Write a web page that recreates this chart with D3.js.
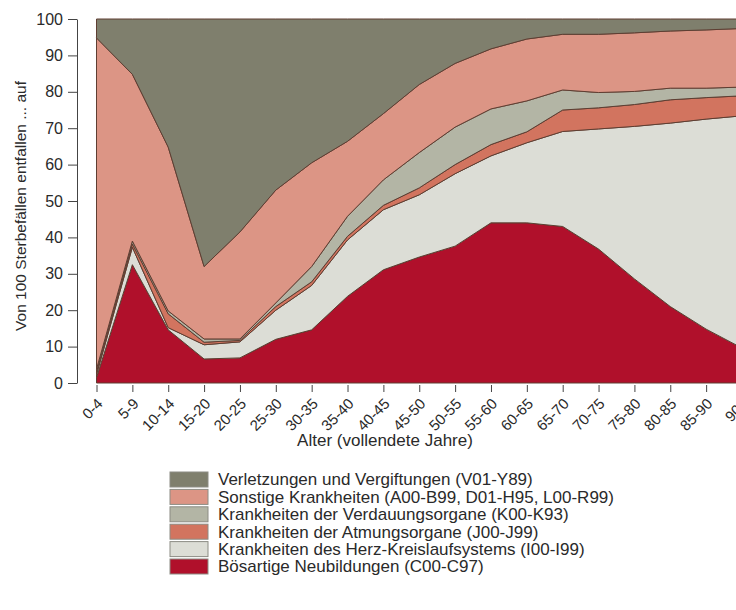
<!DOCTYPE html>
<html>
<head>
<meta charset="utf-8">
<script src="https://cdn.jsdelivr.net/npm/d3@7"></script>
<style>
  html, body { margin: 0; padding: 0; background: #fff; }
  svg { display: block; font-family: "Liberation Sans", Arial, sans-serif; }
</style>
</head>
<body>
<svg id="chart" width="736" height="610"></svg>
<script>
// ---- data ----
const categories = ["0-4","5-9","10-14","15-20","20-25","25-30","30-35","35-40","40-45","45-50","50-55","55-60","60-65","65-70","70-75","75-80","80-85","85-90","90+"];
const boesartig   = [1.5, 32.5, 14.6, 6.6, 6.9, 12.0, 14.6, 23.8, 31.1, 34.6, 37.6, 44.0, 44.0, 43.0, 36.8, 28.6, 21.0, 14.8, 9.6];
const herzKreis   = [0.8, 4.8, 0.6, 3.9, 4.4, 8.0, 12.2, 15.5, 16.5, 17.1, 19.9, 18.4, 22.0, 26.1, 33.0, 41.9, 50.4, 57.7, 63.8];
const atmung      = [0.7, 0.9, 3.8, 0.7, 0.4, 1.0, 1.0, 1.0, 1.2, 1.9, 2.5, 3.1, 3.0, 5.9, 5.8, 6.0, 6.4, 5.9, 5.5];
const verdauung   = [0.8, 0.8, 0.8, 0.9, 0.4, 1.0, 4.2, 5.5, 7.0, 9.7, 10.3, 9.8, 8.5, 5.5, 4.2, 3.6, 3.2, 2.6, 2.4];
const sonstige    = [91.0, 45.8, 45.0, 19.9, 29.4, 31.0, 28.5, 20.6, 18.2, 18.7, 17.5, 16.5, 17.0, 15.3, 16.0, 16.1, 15.7, 16.0, 16.1];
const verletzung  = [5.2, 15.2, 35.2, 68.0, 58.5, 47.0, 39.5, 33.6, 26.0, 18.0, 12.2, 8.2, 5.5, 4.2, 4.2, 3.8, 3.3, 3.0, 2.6];
const yTicks = [0,10,20,30,40,50,60,70,80,90,100];

const seriesKeys = ["boesartig","herzKreis","atmung","verdauung","sonstige","verletzung"];
const seriesLabels = {
  verletzung: "Verletzungen und Vergiftungen (V01-Y89)",
  sonstige: "Sonstige Krankheiten (A00-B99, D01-H95, L00-R99)",
  verdauung: "Krankheiten der Verdauungsorgane (K00-K93)",
  atmung: "Krankheiten der Atmungsorgane (J00-J99)",
  herzKreis: "Krankheiten des Herz-Kreislaufsystems (I00-I99)",
  boesartig: "Bösartige Neubildungen (C00-C97)"
};
const colors = {
  boesartig: "#b0102b",
  herzKreis: "#dcddd6",
  atmung: "#d2745f",
  verdauung: "#b3b5a5",
  sonstige: "#dc9585",
  verletzung: "#7f7f6d"
};
const legendOrder = ["verletzung","sonstige","verdauung","atmung","herzKreis","boesartig"];

const table = categories.map((c, i) => ({
  cat: c,
  boesartig: boesartig[i], herzKreis: herzKreis[i], atmung: atmung[i],
  verdauung: verdauung[i], sonstige: sonstige[i], verletzung: verletzung[i]
}));

// ---- layout ----
const svg = d3.select("#chart");
const x = d3.scalePoint().domain(categories).range([96.5, 742]);
const y = d3.scaleLinear().domain([0, 100]).range([383, 19]);

const stacked = d3.stack().keys(seriesKeys)(table);
const area = d3.area()
  .x(d => x(d.data.cat))
  .y0(d => y(d[0]))
  .y1(d => y(d[1]));

svg.append("g").selectAll("path")
  .data(stacked)
  .join("path")
  .attr("d", area)
  .attr("fill", d => colors[d.key])
  .attr("stroke", "#5e3e32")
  .attr("stroke-width", 1)
  .attr("stroke-linejoin", "round");

// y axis
const yAxis = svg.append("g")
  .attr("transform", "translate(77,0)")
  .call(d3.axisLeft(y).tickValues(yTicks).tickSize(9).tickSizeOuter(0).tickPadding(5));
yAxis.select(".domain").attr("stroke", "#444");
yAxis.selectAll(".tick line").attr("stroke", "#444");
yAxis.selectAll("text").attr("font-size", 16).attr("fill", "#2a2a2a")
  .attr("font-family", "Liberation Sans, Arial, sans-serif");

// x axis
const xAxis = svg.append("g")
  .attr("transform", "translate(0,385)")
  .call(d3.axisBottom(x).tickSize(7).tickSizeOuter(0));
xAxis.select(".domain").remove();
xAxis.selectAll(".tick line").attr("stroke", "#444");
xAxis.selectAll("text")
  .attr("font-size", 15)
  .attr("fill", "#2a2a2a")
  .attr("font-family", "Liberation Sans, Arial, sans-serif")
  .attr("x", 0).attr("y", 0).attr("dy", "0.35em")
  .attr("transform", "translate(3,16) rotate(-45)")
  .style("text-anchor", "end");

// axis titles
svg.append("text")
  .attr("transform", "translate(21,206) rotate(-90)")
  .attr("text-anchor", "middle")
  .attr("dy", "0.35em")
  .attr("font-size", 15.5)
  .attr("fill", "#2a2a2a")
  .text("Von 100 Sterbefällen entfallen ... auf");

svg.append("text")
  .attr("x", 385).attr("y", 440)
  .attr("text-anchor", "middle")
  .attr("dy", "0.35em")
  .attr("font-size", 17)
  .attr("fill", "#2a2a2a")
  .text("Alter (vollendete Jahre)");

// legend
const legend = svg.append("g").attr("transform", "translate(170,472)");
const rows = legend.selectAll("g").data(legendOrder).join("g")
  .attr("transform", (d, i) => `translate(0,${i * 17.4})`);
rows.append("rect")
  .attr("x", 0).attr("y", 0).attr("width", 38).attr("height", 15)
  .attr("fill", d => colors[d])
  .attr("stroke", "#8c8c84").attr("stroke-width", 1);
rows.append("text")
  .attr("x", 48).attr("y", 7.5).attr("dy", "0.35em")
  .attr("font-size", 17)
  .attr("fill", "#2a2a2a")
  .text(d => seriesLabels[d]);
</script>
</body>
</html>
